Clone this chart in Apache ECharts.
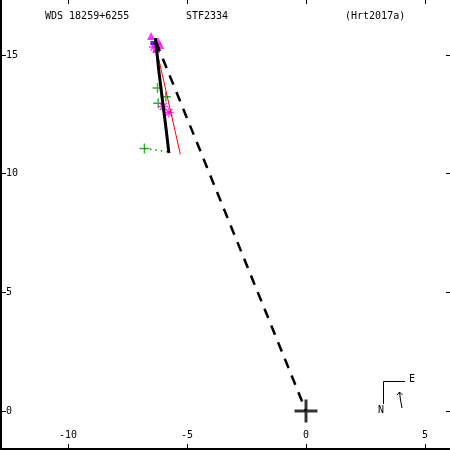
<!DOCTYPE html>
<html><head><meta charset="utf-8">
<script src="https://cdn.jsdelivr.net/npm/echarts@6/dist/echarts.min.js"></script>
<style>html,body{margin:0;padding:0;background:#fff}#c{width:450px;height:450px}</style>
</head><body><div id="c"></div>
<script>
// Tick labels
const xTicks = [-10, -5, 0, 5];
const yTicks = [0, 5, 10, 15];
// Texts
const titleTexts = ['WDS 18259+6255', 'STF2334', '(Hrt2017a)'];
// Orbit arc (solid black)
const orbit = [[-6.33, 15.72], [-6.18, 14.3], [-6.02, 13.0], [-5.88, 11.9], [-5.76, 10.87]];
// Line of nodes (dashed)
const nodeLine = [[-6.30, 15.55], [0, 0]];
// Red line
const redLine = [[-6.32, 15.42], [-5.28, 10.82]];
// Green micrometric measures
const greenPlus = [[-6.24, 13.61], [-5.89, 13.24], [-6.21, 12.97], [-6.79, 11.06]];
const greenOC = [[-6.79, 11.06], [-5.80, 10.93]];
// Magenta speckle measures
const magentaStars = [[-6.0, 12.83], [-5.76, 12.58], [-6.39, 15.34]];
const magentaTriangles = [[-6.51, 15.80], [-6.22, 15.59], [-6.13, 15.42], [-6.30, 15.26]];
// Blue (Hipparcos)
const blueSquares = [[-6.45, 15.51]];
// Primary
const origin = [[0, 0]];

const FONT = '"DejaVu Sans Mono", monospace';
const thinPlus = 'path://M0,4.3 H10 V5.7 H0 Z M4.3,0 H5.7 V10 H4.3 Z';
const thickPlus = 'path://M0,9.6 H22 V12.4 H0 Z M9.6,0 H12.4 V22 H9.6 Z';
const GREEN = '#009a00';

const chart = echarts.init(document.getElementById('c'), null, {renderer: 'canvas'});
const lineS = (data, color, width, type, z) => ({
  type: 'line', data, showSymbol: false, symbol: 'none', silent: true, z: z || 2,
  lineStyle: {color, width, type: type || 'solid'}, animation: false
});
chart.setOption({
  animation: false,
  grid: {left: 1, top: 0, width: 449, height: 449},
  xAxis: [
    {type: 'value', position: 'bottom', min: -12.815, max: 6.05,
     axisLine: {show: true, onZero: false, lineStyle: {color: '#000', width: 2}},
     axisTick: {show: true, inside: true, length: 5, customValues: xTicks, lineStyle: {color: '#000', width: 1}},
     axisLabel: {show: true, inside: true, margin: 9, customValues: xTicks, color: '#000', fontFamily: FONT, fontSize: 10},
     splitLine: {show: false}},
    {type: 'value', position: 'top', min: -12.815, max: 6.05,
     axisLine: {show: false, onZero: false},
     axisTick: {show: true, inside: true, length: 4, customValues: xTicks, lineStyle: {color: '#000', width: 1}},
     axisLabel: {show: false}, splitLine: {show: false}}
  ],
  yAxis: [
    {type: 'value', position: 'left', min: -1.601, max: 17.32,
     axisLine: {show: true, onZero: false, lineStyle: {color: '#000', width: 2}},
     axisTick: {show: true, inside: true, length: 5, customValues: yTicks, lineStyle: {color: '#000', width: 1}},
     axisLabel: {show: true, inside: true, margin: 5, customValues: yTicks, color: '#000', fontFamily: FONT, fontSize: 10},
     splitLine: {show: false}},
    {type: 'value', position: 'right', min: -1.601, max: 17.32,
     axisLine: {show: false, onZero: false},
     axisTick: {show: true, inside: true, length: 4, customValues: yTicks, lineStyle: {color: '#000', width: 1}},
     axisLabel: {show: false}, splitLine: {show: false}}
  ],
  series: [
    lineS(greenOC, GREEN, 1.5, [1.5, 4], 1),
    {type: 'scatter', data: greenPlus, symbol: thinPlus, symbolSize: 10, itemStyle: {color: GREEN}, z: 2, silent: true},
    {type: 'scatter', data: magentaTriangles, symbol: 'triangle', symbolSize: 8, itemStyle: {color: '#ff00ff'}, z: 2, silent: true},
    {type: 'scatter', data: magentaStars, symbol: thinPlus, symbolSize: 10, itemStyle: {color: '#ff00ff'}, z: 2, silent: true},
    {type: 'scatter', data: magentaStars, symbol: thinPlus, symbolSize: 10, symbolRotate: 45, itemStyle: {color: '#ff00ff'}, z: 2, silent: true},
    {type: 'scatter', data: blueSquares, symbol: 'rect', symbolSize: 4, itemStyle: {color: '#0000ff'}, z: 3, silent: true},
    lineS(redLine, '#ff0000', 1, 'solid', 3),
    lineS(nodeLine, '#000', 2.5, [10, 8], 4),
    lineS(orbit, '#000', 3, 'solid', 5),
    {type: 'scatter', data: origin, symbol: thickPlus, symbolSize: 23, itemStyle: {color: '#000'}, z: 6, silent: true}
  ],
  graphic: [
    {type: 'text', left: 45, top: 11, style: {text: titleTexts[0], font: '10px ' + FONT, fill: '#000'}},
    {type: 'text', left: 186, top: 11, style: {text: titleTexts[1], font: '10px ' + FONT, fill: '#000'}},
    {type: 'text', left: 345, top: 11, style: {text: titleTexts[2], font: '10px ' + FONT, fill: '#000'}},
    {type: 'polyline', shape: {points: [[383.5, 404], [383.5, 381.5], [405, 381.5]]}, style: {stroke: '#000', lineWidth: 1, fill: null}},
    {type: 'text', left: 378, top: 405, style: {text: 'N', font: '10px ' + FONT, fill: '#000'}},
    {type: 'text', left: 409, top: 374, style: {text: 'E', font: '10px ' + FONT, fill: '#000'}},
    {type: 'polyline', shape: {points: [[402, 408], [400.5, 400], [399.5, 392]]}, style: {stroke: '#000', lineWidth: 1, fill: null}},
    {type: 'polyline', shape: {points: [[397, 395], [399.5, 392], [402.5, 395]]}, style: {stroke: '#000', lineWidth: 1, fill: null}}
  ]
});
</script></body></html>
